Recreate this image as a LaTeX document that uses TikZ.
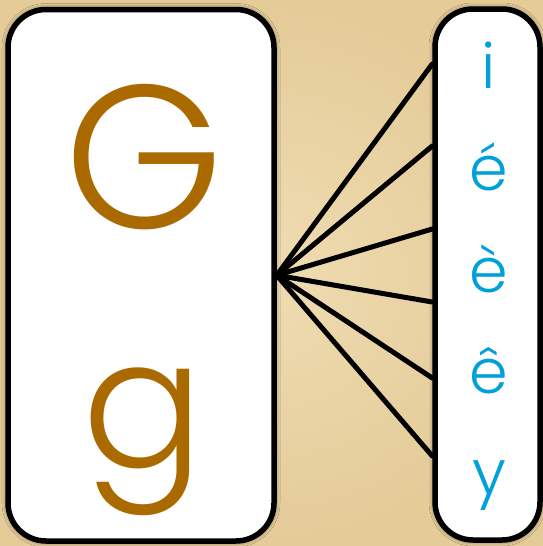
\documentclass[tikz,border=0pt]{standalone}
\usepackage{fontspec}
\setmainfont{Poppins}
\newfontfamily\thinletters{Poppins Light}
\usetikzlibrary{positioning,shadows.blur}
\definecolor{parch}{HTML}{EFDCB2}
\definecolor{parchdark}{HTML}{E4CB98}
\definecolor{ochre}{HTML}{AA6A00}
\definecolor{sky}{HTML}{00A0DA}
\begin{document}
\begin{tikzpicture}[x=1pt,y=-1pt,card/.style={draw=black,fill=white,line width=5.5pt,rounded corners=38pt,inner sep=0pt,blur shadow={shadow xshift=0pt,shadow yshift=0pt,shadow blur radius=6pt,shadow opacity=70}},big/.style={text=ochre,font=\thinletters\fontsize{204}{204}\selectfont,inner sep=0pt,anchor=base},small/.style={text=sky,font=\thinletters\fontsize{62}{62}\selectfont,inner sep=0pt,anchor=base},fan/.style={draw=black,line width=5pt,line cap=round}]
\useasboundingbox (0,0) rectangle (543,546);
\shade[inner color=parch,outer color=parchdark] (0,0) rectangle (543,546);
\node[card,minimum width=266pt,minimum height=531.5pt] (gbox) at (141,275.25) {};
\node[card,minimum width=105pt,minimum height=531pt] (vbox) at (487.5,274.5) {};
\node[big] (upperG) at (144,228.6) {G};
\node[big,font=\thinletters\fontsize{180}{180}\selectfont] (lowerg) at (143,467) {g};
\foreach \n/\t/\y in {i/i/88,eacute/é/190,egrave/è/292,ecirc/ê/393,y/y/494}{\node[small] (\n) at (489,\y) {\t};}
\foreach \n/\y in {1/64,2/146,3/229,4/302,5/378,6/456}{\coordinate (end\n) at (vbox.west |- 0,\y);}
\foreach \n in {1,...,6}{\draw[fan] (gbox.east) -- (end\n);}
\end{tikzpicture}
\end{document}
